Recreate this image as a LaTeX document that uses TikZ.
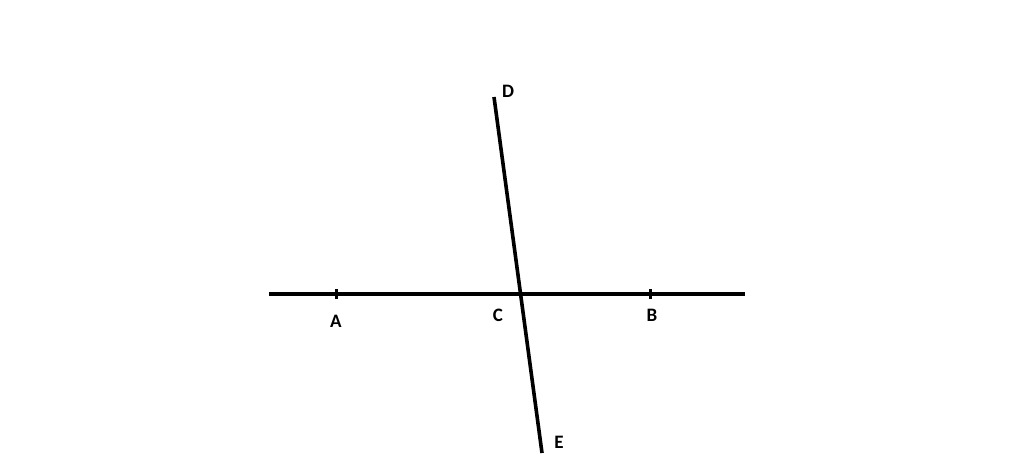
\documentclass[tikz,border=0pt]{standalone}
\usepackage{fontspec}
\setmainfont{Carlito}
\begin{document}
\begin{tikzpicture}[x=1pt,y=-1pt,
  seg/.style={line width=3.6pt},
  tick/.style={line width=3pt},
  lbl/.style={font=\fontsize{19}{19}\selectfont\bfseries, inner sep=0pt}]
\useasboundingbox (0,0) rectangle (1024,470);
\coordinate (L) at (269,294);
\coordinate (R) at (745,294);
\coordinate (Dp) at (494,97);
\coordinate (Ep) at (542,453);
\coordinate (Ap) at (336,294);
\coordinate (Bp) at (650,294);
\draw[seg] (L) -- (R);
\draw[seg] (Dp) -- (Ep);
\draw[tick] ([yshift=-5pt]Ap) -- ([yshift=5pt]Ap);
\draw[tick] ([yshift=-5pt]Bp) -- ([yshift=5pt]Bp);
\node[lbl] (D) at (508,91) {D};
\node[lbl] (E) at (559,442) {E};
\node[lbl] (A) at (336,321) {A};
\node[lbl] (C) at (498,315) {C};
\node[lbl] (B) at (652,315) {B};
\end{tikzpicture}
\end{document}
